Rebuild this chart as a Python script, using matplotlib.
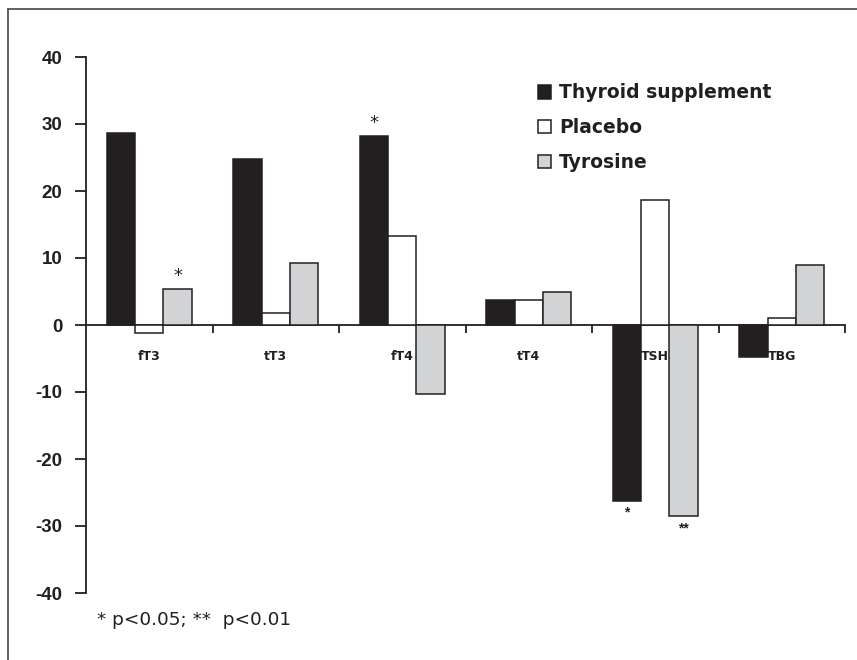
import numpy as np
import matplotlib
matplotlib.use('Agg')
import matplotlib.pyplot as plt
from matplotlib.patches import Patch
from matplotlib.lines import Line2D

categories = ['fT3', 'tT3', 'fT4', 'tT4', 'TSH', 'TBG']
series_names = ['Thyroid supplement', 'Placebo', 'Tyrosine']
thyroid = [28.7, 24.8, 28.2, 3.7, -26.2, -4.8]
placebo = [-1.2, 1.8, 13.3, 3.7, 18.6, 1.1]
tyrosine = [5.4, 9.2, -10.3, 4.9, -28.5, 9.0]
y_ticks = [-40, -30, -20, -10, 0, 10, 20, 30, 40]
# (category index, series index, label)
stars = [(0, 2, '*'), (2, 0, '*'), (4, 0, '*'), (4, 2, '**')]
footnote = '* p<0.05; **  p<0.01'

EDGE = '#231f20'
FILLS = ['#231f20', '#ffffff', '#d1d3d4']
BOLD = 'Liberation Sans'

plt.rcParams['font.family'] = [BOLD, 'DejaVu Sans']

fig = plt.figure(figsize=(8.57, 6.6), dpi=100)
ax = fig.add_axes([86 / 857, 1 - 593 / 660, (845 - 86) / 857, (593 - 57) / 660])

width = 0.225
x = np.arange(len(categories)) + 0.5
all_series = [thyroid, placebo, tyrosine]
for i, (values, fill) in enumerate(zip(all_series, FILLS)):
    ax.bar(x + (i - 1) * width, values, width, color=fill, edgecolor=EDGE,
           linewidth=1.1, zorder=3)

for cat, ser, label in stars:
    v = all_series[ser][cat]
    xp = x[cat] + (ser - 1) * width
    if v >= 0:
        ax.text(xp, v + 0.6, label, ha='center', va='bottom', fontsize=13,
                family='DejaVu Sans', color=EDGE)
    else:
        ax.text(xp, v - 0.8, label, ha='center', va='top', fontsize=10,
                family=BOLD, fontweight='bold', color=EDGE)

ax.set_xlim(0, len(categories))
ax.set_ylim(-40, 40)
ax.set_yticks(y_ticks)
ax.set_yticklabels([str(t) for t in y_ticks], fontsize=13.5, fontweight='bold', color=EDGE)
ax.tick_params(axis='y', length=8, width=1.3, color=EDGE, pad=9)

ax.spines['top'].set_visible(False)
ax.spines['right'].set_visible(False)
ax.spines['left'].set_linewidth(1.3)
ax.spines['left'].set_color(EDGE)
ax.spines['bottom'].set_position(('data', 0))
ax.spines['bottom'].set_linewidth(1.3)
ax.spines['bottom'].set_color(EDGE)

ax.set_xticks(x)
ax.set_xticklabels(categories, fontsize=9, fontweight='bold', color=EDGE,
                   family='DejaVu Sans')
ax.set_xticks(np.arange(1, len(categories) + 1), minor=True)
ax.tick_params(axis='x', which='major', length=0, pad=18)
ax.tick_params(axis='x', which='minor', length=6, width=1.3, color=EDGE, direction='out')

handles = [Patch(facecolor=f, edgecolor=EDGE, linewidth=1.1) for f in FILLS]
leg = ax.legend(handles, series_names, loc='upper left', frameon=False,
                bbox_to_anchor=(530 / 857, 1 - 76 / 660), bbox_transform=fig.transFigure,
                prop={'family': 'DejaVu Sans', 'weight': 'bold', 'size': 13.5},
                handlelength=0.7, handleheight=0.7, handletextpad=0.45,
                labelspacing=0.85, borderaxespad=0)
for t in leg.get_texts():
    t.set_color(EDGE)

fig.text(97 / 857, 1 - 620 / 660, footnote, fontsize=13.3, family='DejaVu Sans',
         color=EDGE, va='center', ha='left')

# outer frame: top and left lines only
fig.add_artist(Line2D([8 / 857, 1], [1 - 9 / 660, 1 - 9 / 660], transform=fig.transFigure,
                      color='#555555', linewidth=1.3))
fig.add_artist(Line2D([8 / 857, 8 / 857], [1 - 9 / 660, 0], transform=fig.transFigure,
                      color='#555555', linewidth=1.3))

fig.savefig('out.png', dpi=100)
